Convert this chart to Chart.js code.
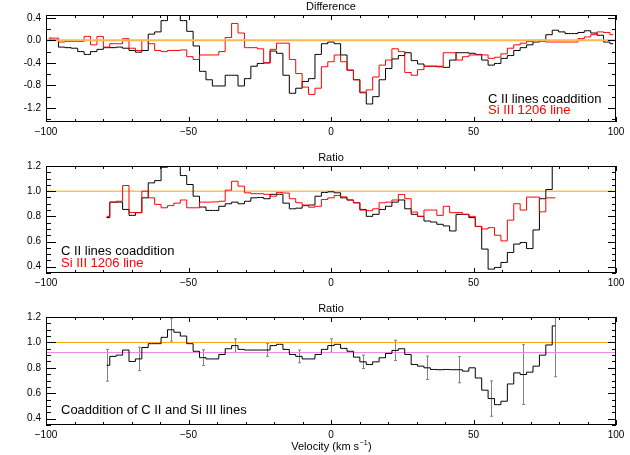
<!DOCTYPE html>
<html>
<head>
<meta charset="utf-8">
<script src="https://cdn.jsdelivr.net/npm/chart.js@4.4.1/dist/chart.umd.min.js"></script>
<style>
  html, body { margin: 0; padding: 0; background: #fff; }
  #wrap { position: relative; width: 630px; height: 455px; }
  #wrap canvas { position: absolute; left: 0; top: 0; }
</style>
</head>
<body>
<div id="wrap">
  <canvas id="diffChart" width="630" height="455"></canvas>
  <canvas id="ratioChart" width="630" height="455"></canvas>
  <canvas id="coaddChart" width="630" height="455"></canvas>
</div>
<script>
// velocity bin centres (km/s), 2.25 km/s bins
const velDiff = [
  -99, -96.75, -94.5, -92.25, -90, -87.75, -85.5, -83.25, -81, -78.75,
  -76.5, -74.25, -72, -69.75, -67.5, -65.25, -63, -60.75, -58.5, -56.25,
  -54, -51.75, -49.5, -47.25, -45, -42.75, -40.5, -38.25, -36, -33.75,
  -31.5, -29.25, -27, -24.75, -22.5, -20.25, -18, -15.75, -13.5, -11.25,
  -9, -6.75, -4.5, -2.25, 0, 2.25, 4.5, 6.75, 9, 11.25,
  13.5, 15.75, 18, 20.25, 22.5, 24.75, 27, 29.25, 31.5, 33.75,
  36, 38.25, 40.5, 42.75, 45, 47.25, 49.5, 51.75, 54, 56.25,
  58.5, 60.75, 63, 65.25, 67.5, 69.75, 72, 74.25, 76.5, 78.75,
  81, 83.25, 85.5, 87.75, 90, 92.25, 94.5, 96.75, 99
];
const velRatio = velDiff.slice(9, 80); // -78.75 .. 78.75

// top panel: difference
const diffCII = [
  0.02, 0.01, -0.12, -0.13, -0.14, -0.20, -0.25, -0.20, -0.16, -0.13,
  -0.13, -0.12, -0.14, -0.18, -0.21, -0.18, 0.11, 0.15, 0.35, 0.55,
  0.55, 0.35, 0.16, -0.10, -0.55, -0.70, -0.81, -0.81, -0.62, -0.62,
  -0.81, -0.68, -0.46, -0.41, -0.40, -0.19, -0.23, -0.62, -0.94, -0.85,
  -0.73, -0.68, -0.25, -0.06, -0.03, -0.06, -0.26, -0.53, -0.70, -0.93,
  -1.13, -1.00, -0.70, -0.50, -0.33, -0.27, -0.22, -0.36, -0.42, -0.46,
  -0.46, -0.47, -0.48, -0.35, -0.22, -0.22, -0.23, -0.25, -0.35, -0.44,
  -0.41, -0.32, -0.27, -0.18, -0.13, -0.08, -0.03, 0.00, 0.10, 0.18,
  0.15, 0.12, 0.12, 0.14, 0.17, 0.13, 0.09, -0.03, -0.06
];
const diffSiIII = [
  0.04, 0.04, -0.03, -0.02, -0.02, -0.02, 0.07, -0.08, 0.07, -0.12,
  -0.06, -0.06, 0.03, -0.14, -0.18, 0.00, -0.06, -0.18, -0.20, -0.18,
  -0.18, -0.17, -0.29, -0.34, -0.26, -0.26, -0.26, -0.20, 0.05, 0.30,
  0.13, -0.13, -0.13, -0.15, -0.40, -0.16, -0.05, -0.05, -0.34, -0.59,
  -0.83, -0.96, -0.85, -0.47, -0.38, -0.26, -0.38, -0.53, -0.70, -0.92,
  -0.88, -0.65, -0.44, -0.35, -0.15, -0.20, -0.57, -0.62, -0.52, -0.46,
  -0.46, -0.46, -0.22, -0.22, -0.35, -0.29, -0.26, -0.26, -0.26, -0.32,
  -0.30, -0.24, -0.14, -0.08, -0.05, -0.02, 0.00, -0.02, -0.03, -0.03,
  -0.03, -0.03, -0.03, 0.03, 0.06, 0.10, 0.15, 0.14, 0.10
];

// middle panel: ratio
const ratioCII = [
  0.79, 0.913, 0.913, 0.855, 0.808, 0.829, 0.947, 1.066, 1.084, 1.19,
  1.30, 1.30, 1.124, 1.053, 0.96, 0.874, 0.847, 0.847, 0.88, 0.90,
  0.913, 0.90, 0.92, 0.947, 0.95, 0.94, 0.975, 0.975, 0.905, 0.86,
  0.865, 0.885, 0.89, 0.96, 0.99, 0.995, 0.987, 0.947, 0.93, 0.908,
  0.855, 0.80, 0.816, 0.855, 0.88, 0.913, 0.93, 0.86, 0.816, 0.80,
  0.763, 0.755, 0.737, 0.724, 0.684, 0.816, 0.816, 0.79, 0.72, 0.54,
  0.381, 0.394, 0.434, 0.513, 0.58, 0.592, 0.544, 0.692, 0.94, 1.013,
  1.40
];
const ratioSiIII = [
  0.80, 0.913, 0.92, 1.045, 0.83, 0.83, 1.0, 0.947, 0.895, 0.868,
  0.885, 0.905, 0.93, 0.868, 0.868, 0.913, 0.913, 0.915, 0.92, 1.008,
  1.079, 1.04, 0.987, 0.98, 0.98, 0.975, 0.96, 0.99, 0.985, 0.94,
  0.908, 0.89, 0.873, 0.88, 0.934, 0.947, 0.966, 0.955, 0.93, 0.908,
  0.85, 0.845, 0.86, 0.908, 0.913, 0.93, 0.974, 0.94, 0.834, 0.80,
  0.85, 0.85, 0.808, 0.88, 0.829, 0.83, 0.816, 0.80, 0.72, 0.70,
  0.71, 0.65, 0.605, 0.77, 0.90, 0.85, 0.953, 0.953, 0.836, 0.947,
  0.947
];

// bottom panel: coaddition of both
const ratioCoadd = [
  0.82, 0.89, 0.90, 0.94, 0.85, 0.87, 0.96, 0.99, 0.99, 1.04,
  1.10, 1.08, 1.05, 0.99, 0.93, 0.88, 0.87, 0.87, 0.905, 0.95,
  0.975, 0.945, 0.94, 0.94, 0.94, 0.94, 0.975, 0.985, 0.945, 0.905,
  0.89, 0.87, 0.87, 0.905, 0.945, 0.975, 0.985, 0.953, 0.93, 0.884,
  0.847, 0.826, 0.847, 0.879, 0.913, 0.937, 0.95, 0.905, 0.826, 0.813,
  0.80, 0.787, 0.785, 0.787, 0.785, 0.785, 0.774, 0.80, 0.72, 0.624,
  0.558, 0.51, 0.537, 0.673, 0.76, 0.747, 0.766, 0.813, 0.90, 0.98,
  1.13
];
const errVel = [-78.75, -67.5, -56.25, -45, -33.75, -22.5, -11.25, 0, 11.25, 22.5, 33.75, 45, 56.25, 67.5, 78.75];
const errHalf = [0.125, 0.092, 0.09, 0.062, 0.053, 0.05, 0.05, 0.053, 0.053, 0.08, 0.092, 0.103, 0.139, 0.235, 0.40];
const meanRatio = 0.92;

// axis ticks
const xTickVals = [-100, -50, 0, 50, 100];
const xTickText = ['\u2212100', '\u221250', '0', '50', '100'];
const diffTickVals = [-1.2, -0.8, -0.4, 0, 0.4];
const diffTickText = ['-1.2', '-0.8', '-0.4', '0.0', '0.4'];
const ratioTickVals = [0.4, 0.6, 0.8, 1.0, 1.2];
const ratioTickText = ['0.4', '0.6', '0.8', '1.0', '1.2'];

const FONT = "'Liberation Sans', Arial, Helvetica, sans-serif";

function toPoints(xs, ys) {
    return xs.map((v, i) => ({ x: v, y: ys[i] }));
}

function stepLine(xs, ys, color, order) {
    return {
        data: toPoints(xs, ys), borderColor: color, borderWidth: 1,
        stepped: 'middle', pointRadius: 0, order: order, clip: 0
    };
}

function refLine(value, color, width, order) {
    return {
        data: [{ x: -100, y: value }, { x: 100, y: value }],
        borderColor: color, borderWidth: width, pointRadius: 0, order: order, clip: 0
    };
}

// frame, inward minor ticks, titles and the in-plot notes
const panelDecor = {
    id: 'panelDecor',
    beforeDatasetsDraw(chart, args, o) {
        if (!o.errors) return;
        const { ctx, chartArea: a, scales: { x, y } } = chart;
        ctx.save();
        ctx.beginPath();
        ctx.rect(a.left, a.top, a.right - a.left, a.bottom - a.top);
        ctx.clip();
        ctx.strokeStyle = '#808080';
        ctx.lineWidth = 1;
        o.errors.vel.forEach((v, i) => {
            const c = o.errors.center[i], e = o.errors.half[i];
            const px = Math.round(x.getPixelForValue(v)) + 0.5;
            const y1 = y.getPixelForValue(c - e), y2 = y.getPixelForValue(c + e);
            ctx.beginPath();
            ctx.moveTo(px, y1); ctx.lineTo(px, y2);
            ctx.moveTo(px - 1.5, y1); ctx.lineTo(px + 1.5, y1);
            ctx.moveTo(px - 1.5, y2); ctx.lineTo(px + 1.5, y2);
            ctx.stroke();
        });
        ctx.restore();
    },
    afterDraw(chart, args, o) {
        const { ctx, chartArea: a, scales: { x, y } } = chart;
        ctx.save();
        ctx.strokeStyle = '#000';
        ctx.lineWidth = 1;
        ctx.strokeRect(Math.round(a.left) + 0.5, Math.round(a.top) + 0.5,
            Math.round(a.right - a.left) - 1, Math.round(a.bottom - a.top) - 1);

        ctx.beginPath();
        for (let v = -100; v <= 100; v += 10) {
            const px = Math.round(x.getPixelForValue(v)) + 0.5;
            const len = v % 50 === 0 ? 5 : 3;
            ctx.moveTo(px, a.bottom); ctx.lineTo(px, a.bottom - len);
            ctx.moveTo(px, a.top); ctx.lineTo(px, a.top + len);
        }
        for (let i = o.minorFrom; i <= o.minorTo; i++) {
            const py = Math.round(y.getPixelForValue(i * o.minorStep)) + 0.5;
            const major = i % o.majorEvery === 0;
            ctx.moveTo(a.left, py); ctx.lineTo(a.left + (major ? 10 : 5), py);
            ctx.moveTo(a.right, py); ctx.lineTo(a.right - (major ? 8 : 4), py);
        }
        ctx.stroke();

        ctx.fillStyle = '#000';
        ctx.font = '11px ' + FONT;
        ctx.textAlign = 'center';
        ctx.textBaseline = 'middle';
        ctx.fillText(o.title, (a.left + a.right) / 2, a.top - 8.5);

        ctx.font = '13px ' + FONT;
        ctx.textAlign = 'left';
        ctx.textBaseline = 'alphabetic';
        (o.notes || []).forEach(n => {
            ctx.fillStyle = n.color;
            ctx.fillText(n.text, n.x, n.y);
        });

        if (o.xTitle) {
            const main = 'Velocity (km s', sup = '\u22121', tail = ')';
            ctx.font = '11px ' + FONT;
            const w1 = ctx.measureText(main).width, w3 = ctx.measureText(tail).width;
            ctx.font = '7px ' + FONT;
            const w2 = ctx.measureText(sup).width;
            let sx = (a.left + a.right) / 2 - (w1 + w2 + w3) / 2;
            const base = 449.5;
            ctx.fillStyle = '#000';
            ctx.font = '11px ' + FONT;
            ctx.fillText(main, sx, base);
            ctx.font = '7px ' + FONT;
            ctx.fillText(sup, sx + w1 + 0.5, base - 5);
            ctx.font = '11px ' + FONT;
            ctx.fillText(tail, sx + w1 + w2 + 1, base);
        }
        ctx.restore();
    }
};

function buildPanel(id, cfg) {
    const ctx = document.getElementById(id).getContext('2d');
    return new Chart(ctx, {
        type: 'line',
        data: { datasets: cfg.datasets },
        options: {
            responsive: false,
            animation: false,
            events: [],
            devicePixelRatio: 1,
            layout: { padding: { top: cfg.top, right: 14, left: 0, bottom: 0 } },
            plugins: {
                legend: { display: false },
                tooltip: { enabled: false },
                panelDecor: cfg.decor
            },
            scales: {
                x: {
                    type: 'linear', min: -100, max: 100,
                    afterBuildTicks: s => { s.ticks = xTickVals.map(v => ({ value: v })); },
                    afterFit: s => { s.height = 455 - cfg.bottom; },
                    grid: { display: false, drawTicks: false },
                    border: { display: false },
                    ticks: {
                        autoSkip: false, maxRotation: 0, padding: 4, color: '#000',
                        font: { family: FONT, size: 10 },
                        callback: (v, i) => xTickText[i]
                    }
                },
                y: {
                    type: 'linear', min: cfg.yMin, max: cfg.yMax,
                    afterBuildTicks: s => { s.ticks = cfg.yTickVals.map(v => ({ value: v })); },
                    afterFit: s => { s.width = 46; },
                    grid: { display: false, drawTicks: false },
                    border: { display: false },
                    ticks: {
                        padding: 5, color: '#000',
                        font: { family: FONT, size: 10 },
                        callback: (v, i) => cfg.yTickText[i]
                    }
                }
            }
        },
        plugins: [panelDecor]
    });
}

buildPanel('diffChart', {
    top: 15, bottom: 122, yMin: -1.45, yMax: 0.45,
    yTickVals: diffTickVals, yTickText: diffTickText,
    datasets: [
        refLine(0, '#ffb84d', 2, 0),
        stepLine(velDiff, diffSiIII, '#ff0000', 1),
        stepLine(velDiff, diffCII, '#000000', 2)
    ],
    decor: {
        title: 'Difference', minorFrom: -7, minorTo: 2, minorStep: 0.2, majorEvery: 2,
        notes: [
            { text: 'C II lines coaddition', color: '#000', x: 488, y: 102.5 },
            { text: 'Si III 1206 line', color: '#ff0000', x: 488, y: 113.5 }
        ]
    }
});

buildPanel('ratioChart', {
    top: 166, bottom: 273, yMin: 0.35, yMax: 1.2,
    yTickVals: ratioTickVals, yTickText: ratioTickText,
    datasets: [
        refLine(1, '#ffa500', 1, 3),
        stepLine(velRatio, ratioSiIII, '#ff0000', 1),
        stepLine(velRatio, ratioCII, '#000000', 2)
    ],
    decor: {
        title: 'Ratio', minorFrom: 7, minorTo: 24, minorStep: 0.05, majorEvery: 4,
        notes: [
            { text: 'C II lines coaddition', color: '#000', x: 61, y: 255 },
            { text: 'Si III 1206 line', color: '#ff0000', x: 61, y: 266.5 }
        ]
    }
});

buildPanel('coaddChart', {
    top: 317, bottom: 425, yMin: 0.35, yMax: 1.2,
    yTickVals: ratioTickVals, yTickText: ratioTickText,
    datasets: [
        refLine(1, '#ffa500', 1, 2),
        refLine(meanRatio, '#ee82ee', 1, 3),
        stepLine(velRatio, ratioCoadd, '#000000', 1)
    ],
    decor: {
        title: 'Ratio', minorFrom: 7, minorTo: 24, minorStep: 0.05, majorEvery: 4,
        notes: [
            { text: 'Coaddition of C II and Si III lines', color: '#000', x: 61, y: 413.5 }
        ],
        errors: {
            vel: errVel,
            half: errHalf,
            center: errVel.map(v => ratioCoadd[velRatio.indexOf(v)])
        },
        xTitle: true
    }
});
</script>
</body>
</html>
